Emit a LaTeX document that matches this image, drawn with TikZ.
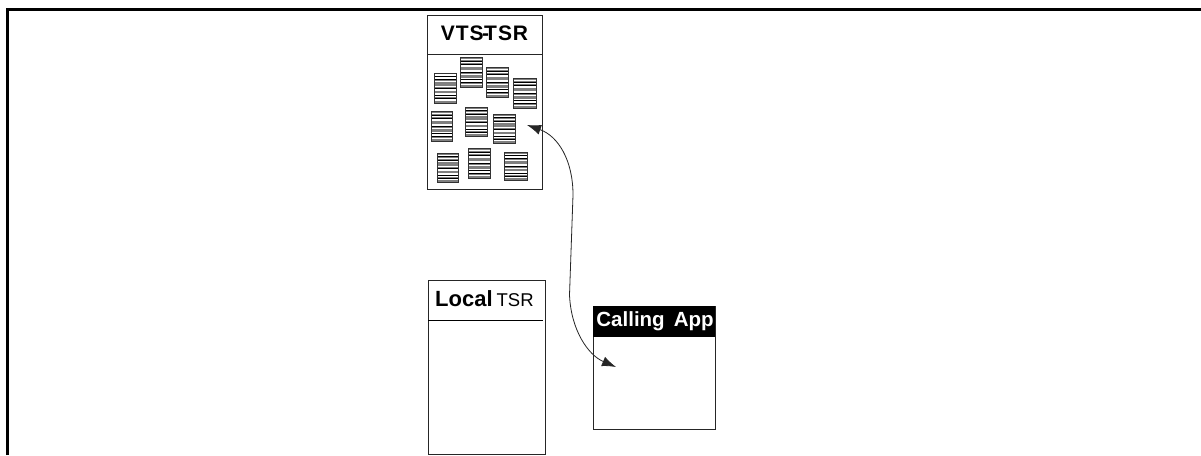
\documentclass[tikz,border=0pt]{standalone}
\usepackage{fontspec}
\setmainfont{Liberation Sans}
\usetikzlibrary{arrows.meta}
\tikzset{
  frameline/.style={line width=3.2pt,line cap=butt},
  panel/.style={draw=black!85,line width=1pt,fill=white,inner sep=0pt},
  titletext/.style={inner sep=0pt,font=\bfseries\fontsize{21}{21}\selectfont,text=black},
  link/.style={draw=black!85,line width=0.8pt,{Latex[length=14pt,width=10pt]}-{Latex[length=14pt,width=10pt]}},
}
\begin{document}
\begin{tikzpicture}[x=1pt,y=-1pt]
\useasboundingbox[fill=white] (0,0) rectangle (1201,455);
\coordinate (fa) at (7.5,455);
\coordinate (fb) at (7.5,9.5);
\coordinate (fc) at (1201,9.5);
\draw[frameline] (fa) -- (fb) -- (fc);
\node[panel,anchor=north west,minimum width=115pt,minimum height=174pt] (vts) at (427,15) {};
\coordinate (vl) at (427,54); \coordinate (vr) at (542,54);
\draw[black!85,line width=1pt] (vl) -- (vr);
\node[titletext] (vtstitle) at (484.5,33.5) {V\kern1pt T\kern1pt S\kern-1.5pt-\kern-5pt T\kern1pt S\kern1pt R};
\foreach \n/\a/\b/\c/\d in {s1/433.5/455.5/72.5/102.5,s2/459.5/481.5/57/87,s3/486/508/67/97,s4/513/536/78/108,s5/431/452/111/141,s6/465/487/107/136,s7/493/515/114/143,s8/437/458/153/182,s9/468/490/148/178,s10/504/527/152/180}{
  \fill[black!50] (\a,\c) rectangle (\b,\d);
  \pgfmathsetmacro{\st}{\d-\c}
  \foreach \k in {0.08,0.18,0.30,0.47,0.58,0.72,0.80,0.91}{\fill[white] (\a,\c+\k*\st-0.7) rectangle (\b,\c+\k*\st+0.7);}
  \foreach \k in {0.13,0.24,0.52,0.76,0.86}{\fill[black] (\a,\c+\k*\st-0.35) rectangle (\b,\c+\k*\st+0.35);}
  \node[draw=black!80,line width=0.8pt,anchor=north west,inner sep=0pt,minimum width={(\b-\a)*1pt},minimum height={(\d-\c)*1pt}] (\n) at (\a,\c) {};
}
\node[panel,anchor=north west,minimum width=116.5pt,minimum height=174pt] (local) at (428,280) {};
\coordinate (ll) at (428,320); \coordinate (lr) at (543,320);
\draw[black,line width=1pt] (ll) -- (lr);
\node[inner sep=0pt,anchor=base west] (localtitle) at (435,306) {\fontsize{22}{22}\selectfont\textbf{Local}\kern4pt\fontsize{18.5}{18.5}\selectfont TSR};
\node[panel,anchor=north west,minimum width=122.5pt,minimum height=123pt] (app) at (592.5,306) {};
\node[fill=black,anchor=north west,inner sep=0pt,minimum width=122.5pt,minimum height=31pt] (apptitle) at (592.5,306) {};
\node[inner sep=0pt,anchor=base,text=white,font=\bfseries\fontsize{20.5}{20.5}\selectfont] (apptext) at (655,326) {Calling\hspace{9pt}App};
\coordinate (ea) at (527,125);
\coordinate (eb) at (616,367);
\draw[link] (ea) .. controls (558,136) and (573,160) .. (573,195) -- (569.5,295) .. controls (571,330) and (588,355) .. (eb);
\end{tikzpicture}
\end{document}
